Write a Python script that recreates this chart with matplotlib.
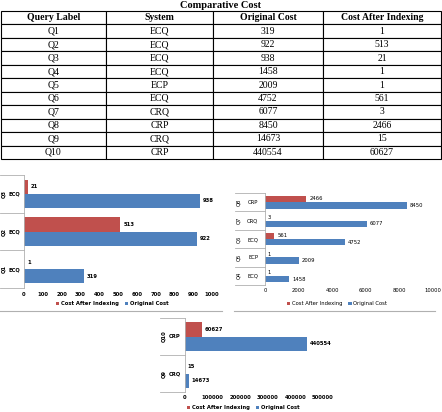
import matplotlib.pyplot as plt
from matplotlib.lines import Line2D
import numpy as np

W, H = 442, 412

queries = ['Q1', 'Q2', 'Q3', 'Q4', 'Q5', 'Q6', 'Q7', 'Q8', 'Q9', 'Q10']
systems = ['ECQ', 'ECQ', 'ECQ', 'ECQ', 'ECP', 'ECQ', 'CRQ', 'CRP', 'CRQ', 'CRP']
original = [319, 922, 938, 1458, 2009, 4752, 6077, 8450, 14673, 440554]
indexed = [1, 513, 21, 1, 1, 561, 3, 2466, 15, 60627]
headers = ['Query Label', 'System', 'Original Cost', 'Cost After Indexing']
legend_labels = ['Cost After Indexing', 'Original Cost']

RED = '#C0504D'
BLUE = '#4F81BD'
GRAY = '#B0B0B0'


def px_rect(x0, y0, x1, y1):
    # pixel box (top-left origin) -> figure fraction rect
    return [x0 / W, 1 - y1 / H, (x1 - x0) / W, (y1 - y0) / H]


fig = plt.figure(figsize=(W / 100, H / 100), dpi=100)

# ---- table ----
tax = fig.add_axes(px_rect(1, 11, 441, 159))
tax.axis('off')
cells = [[q, s, str(o), str(i)] for q, s, o, i in zip(queries, systems, original, indexed)]
tbl = tax.table(cellText=cells, colLabels=headers, cellLoc='center',
                bbox=[0, 0, 1, 1], colWidths=[105, 107, 110, 118])
tbl.auto_set_font_size(False)
for (r, c), cell in tbl.get_celld().items():
    cell.set_linewidth(0.8)
    t = cell.get_text()
    t.set_fontfamily('Liberation Serif')
    t.set_fontsize(7)
    if r == 0:
        t.set_fontweight('bold')
fig.text(0.5, 1 - 5 / H, 'Comparative Cost', ha='center', va='center',
         fontfamily='Liberation Serif', fontweight='bold', fontsize=7.5)


def bar_chart(rect, lab_left, idx, xmax, step, bh, ypad, xpad, legend_xy, weight):
    ax = fig.add_axes(px_rect(*rect))
    axw = rect[2] - rect[0]
    n = len(idx)
    y = np.arange(n)
    orig = [original[i] for i in idx]
    ind = [indexed[i] for i in idx]
    r = ax.barh(y + bh / 2, ind, height=bh, color=RED, label=legend_labels[0])
    b = ax.barh(y - bh / 2, orig, height=bh, color=BLUE, label=legend_labels[1])
    ax.bar_label(r, padding=2, fontsize=3.8, fontweight=weight)
    ax.bar_label(b, padding=2, fontsize=3.8, fontweight=weight)
    ax.set_xlim(0, xmax)
    ax.set_ylim(-0.5, n - 0.5)
    ax.set_xticks(np.arange(0, xmax + 1, step))
    ax.set_yticks(y, [systems[i] for i in idx])
    ax.tick_params(axis='x', length=0, labelsize=3.8, pad=xpad)
    ax.tick_params(axis='y', length=0, labelsize=3.8, pad=ypad)
    for lab in ax.get_xticklabels() + ax.get_yticklabels():
        lab.set_fontweight(weight)
    for s in ['top', 'right', 'bottom']:
        ax.spines[s].set_visible(False)
    ax.spines['left'].set_color(GRAY)
    ax.spines['left'].set_linewidth(0.6)
    trans = ax.get_yaxis_transform()
    lw = (rect[0] - lab_left) / axw
    for yb in np.arange(-0.5, n, 1):
        ax.plot([-lw, 0], [yb, yb], transform=trans, color=GRAY, lw=0.6, clip_on=False)
    for k, i in enumerate(idx):
        ax.text(-lw + 3.5 / axw, k, queries[i], rotation=90, transform=trans,
                ha='center', va='center', fontsize=3.8, fontweight=weight)
    ax.legend(handles=[r, b], loc='center', ncol=2, frameon=False, fontsize=3.8,
              handlelength=0.6, handleheight=0.6, handletextpad=0.3, columnspacing=1.2,
              bbox_to_anchor=(legend_xy[0] / W, 1 - legend_xy[1] / H),
              bbox_transform=fig.transFigure, prop={'size': 3.8, 'weight': weight})
    return ax


bar_chart((24, 175, 212, 288), 0, [0, 1, 2], 1000, 100, 0.38, 3, 3, (112, 304), 'bold')
bar_chart((265, 193, 433, 285), 235, [3, 4, 5, 6, 7], 10000, 2000, 0.35, 5, 2, (337, 304), 'normal')
bar_chart((185, 318, 323, 392), 160, [8, 9], 500000, 100000, 0.38, 3, 2.4, (243, 408), 'bold')

# chart frame bottoms
fig.add_artist(Line2D([0, 222 / W], [1 - 311 / H] * 2, color=GRAY, lw=0.8))
fig.add_artist(Line2D([234 / W, 435 / W], [1 - 311 / H] * 2, color=GRAY, lw=0.8))

fig.savefig('out.png', dpi=100)
